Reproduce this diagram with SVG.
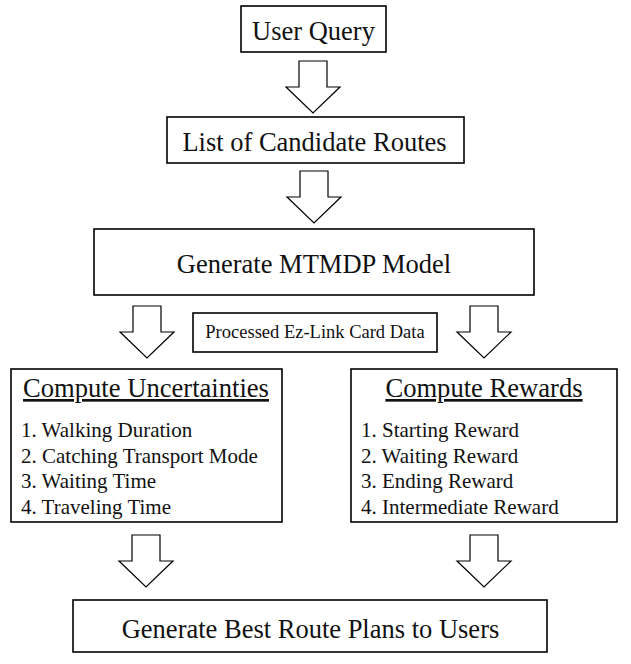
<svg xmlns="http://www.w3.org/2000/svg" width="631" height="664" viewBox="0 0 631 664">
<style>
.box{fill:#fff;stroke:#000;stroke-width:1.6}
.arr{fill:#fff;stroke:#000;stroke-width:1.2;stroke-linejoin:miter}
.t{font-size:26.5px;text-anchor:middle}
.s{font-size:18.5px;text-anchor:middle}
.h{font-size:26.6px;text-anchor:middle;text-decoration:underline}
.i{font-size:21px}
</style>
<defs>
<path id="ar" d="M-14,0 H14 V26 H27 L0,52 L-27,26 H-14 Z"/>
</defs>
<rect width="631" height="664" fill="#fff"/>
<g id="connectors">
<use href="#ar" class="arr" x="313" y="61"/>
<use href="#ar" class="arr" x="314" y="171"/>
<use href="#ar" class="arr" x="147" y="306"/>
<use href="#ar" class="arr" x="484" y="306"/>
<use href="#ar" class="arr" x="146" y="535"/>
<use href="#ar" class="arr" x="484" y="535"/>
</g>
<g font-family="'Liberation Serif', Tinos, 'Times New Roman', Times, 'DejaVu Serif', serif" fill="#111">
<g id="user-query">
<rect class="box" x="241" y="6" width="145" height="46"/>
<text class="t" x="313.5" y="40">User Query</text>
</g>
<g id="candidate-routes">
<rect class="box" x="167" y="117" width="297" height="46"/>
<text class="t" x="314.5" y="151">List of Candidate Routes</text>
</g>
<g id="mtmdp">
<rect class="box" x="94" y="229" width="440" height="66"/>
<text class="t" x="314" y="273">Generate MTMDP Model</text>
</g>
<g id="ezlink">
<rect class="box" x="193" y="313" width="244" height="39"/>
<text class="s" x="315" y="338">Processed Ez-Link Card Data</text>
</g>
<g id="uncertainties">
<rect class="box" x="11" y="369" width="271" height="153"/>
<text class="h" x="146" y="397">Compute Uncertainties</text>
<text class="i" x="21" y="437">1. Walking Duration</text>
<text class="i" x="21" y="463">2. Catching Transport Mode</text>
<text class="i" x="21" y="488">3. Waiting Time</text>
<text class="i" x="21" y="514">4. Traveling Time</text>
</g>
<g id="rewards">
<rect class="box" x="351" y="369" width="266" height="153"/>
<text class="h" x="484" y="397">Compute Rewards</text>
<text class="i" x="361" y="437">1. Starting Reward</text>
<text class="i" x="361" y="463">2. Waiting Reward</text>
<text class="i" x="361" y="488">3. Ending Reward</text>
<text class="i" x="361" y="514">4. Intermediate Reward</text>
</g>
<g id="best-route">
<rect class="box" x="73" y="600" width="474" height="52"/>
<text class="t" x="310.5" y="638">Generate Best Route Plans to Users</text>
</g>
</g>
</svg>
